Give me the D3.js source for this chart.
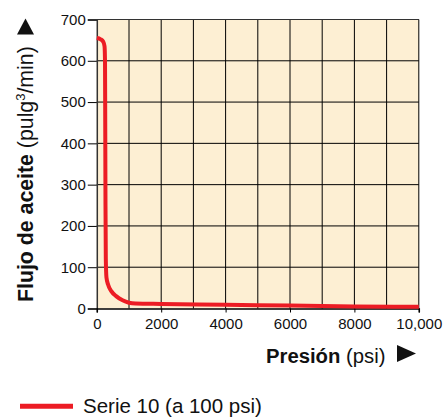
<!DOCTYPE html>
<html><head><meta charset="utf-8">
<script src="https://cdn.jsdelivr.net/npm/d3@7"></script>
<style>body{margin:0;background:#fff}svg{display:block;font-family:"Liberation Sans",Arial,Helvetica,sans-serif}</style>
</head><body>
<svg id="c" width="443" height="417"></svg>
<script>
const pressure = [0, 120, 200, 240, 255, 262, 270, 280, 300, 350, 450, 600, 800, 1000, 1200, 2000, 4000, 6000, 8000, 10000];
const flow     = [655, 652, 646, 635, 600, 450, 250, 120, 75, 58, 42, 30, 20, 14, 12, 11, 9, 7, 5, 4];
const xTicks = [0, 2000, 4000, 6000, 8000, 10000];
const xTickLabels = ["0", "2000", "4000", "6000", "8000", "10,000"];
const yTicks = [0, 100, 200, 300, 400, 500, 600, 700];
const seriesName = "Serie 10 (a 100 psi)";

const svg = d3.select("#c");
const x = d3.scaleLinear().domain([0, 10000]).range([96.8, 418.8]);
const y = d3.scaleLinear().domain([0, 700]).range([308.5, 19.5]);

svg.append("rect").attr("x", x(0)).attr("y", y(700)).attr("width", x(10000)-x(0)).attr("height", y(0)-y(700)).attr("fill", "#fdefd3");

const g = svg.append("g");
g.selectAll(".vg").data(d3.range(1000, 10001, 1000)).join("line")
  .attr("x1", d=>x(d)).attr("x2", d=>x(d)).attr("y1", y(0)).attr("y2", y(700))
  .attr("stroke", "#000").attr("stroke-width", 1);
g.selectAll(".hg").data(d3.range(100, 701, 100)).join("line")
  .attr("x1", x(0)).attr("x2", x(10000)).attr("y1", d=>y(d)).attr("y2", d=>y(d))
  .attr("stroke", "#000").attr("stroke-width", 1);

const yAxis = d3.axisLeft(y).tickValues(yTicks).tickSize(9).tickPadding(2).tickFormat(d3.format("d"));
const ya = svg.append("g").attr("transform", `translate(${x(0)},0)`).call(yAxis);
ya.select(".domain").attr("stroke", "#333").attr("stroke-width", 1.5);
ya.selectAll("text").attr("font-size", 15).attr("fill", "#111");
const xAxis = d3.axisBottom(x).tickValues(xTicks).tickSize(4).tickPadding(6).tickFormat((d,i)=>xTickLabels[i]);
const xa = svg.append("g").attr("transform", `translate(0,${y(0)})`).call(xAxis);
xa.select(".domain").attr("stroke", "#000").attr("stroke-width", 1.5);
xa.selectAll("text").attr("font-size", 15).attr("fill", "#111");
svg.append("line").attr("x1", x(0)).attr("x2", x(10000)).attr("y1", y(700)).attr("y2", y(700)).attr("stroke", "#333").attr("stroke-width", 1.2);

const pts = pressure.map((p,i)=>[p, flow[i]]);
svg.append("path").datum(pts)
  .attr("d", d3.line().x(d=>x(d[0])).y(d=>y(d[1])).curve(d3.curveMonotoneX))
  .attr("fill", "none").attr("stroke", "#ec1c24").attr("stroke-width", 4).attr("stroke-linejoin", "round");

// x title
const xt = svg.append("text").attr("x", 266).attr("y", 363).attr("font-size", 20.3).attr("fill", "#111");
xt.append("tspan").attr("font-weight", "bold").text("Presión");
xt.append("tspan").text(" (psi)");
svg.append("path").attr("d", "M397,345L416,353.5L397,362Z").attr("fill", "#111");

// y title
const yt = svg.append("text").attr("transform", "translate(32.5,302) rotate(-90)").attr("font-size", 21.3).attr("fill", "#111");
yt.append("tspan").attr("font-weight", "bold").text("Flujo de aceite");
yt.append("tspan").text(" (pulg");
yt.append("tspan").attr("font-size", 13).attr("dy", -8).text("3");
yt.append("tspan").attr("dy", 8).text("/min)");
svg.append("path").attr("d", "M17,34.5L25.5,18.5L34,34.5Z").attr("fill", "#111");

// legend
svg.append("line").attr("x1", 20).attr("x2", 73).attr("y1", 406.3).attr("y2", 406.3).attr("stroke", "#ec1c24").attr("stroke-width", 5);
svg.append("text").attr("x", 83).attr("y", 412.7).attr("font-size", 20.5).attr("fill", "#111").text(seriesName);
</script>
</body></html>
